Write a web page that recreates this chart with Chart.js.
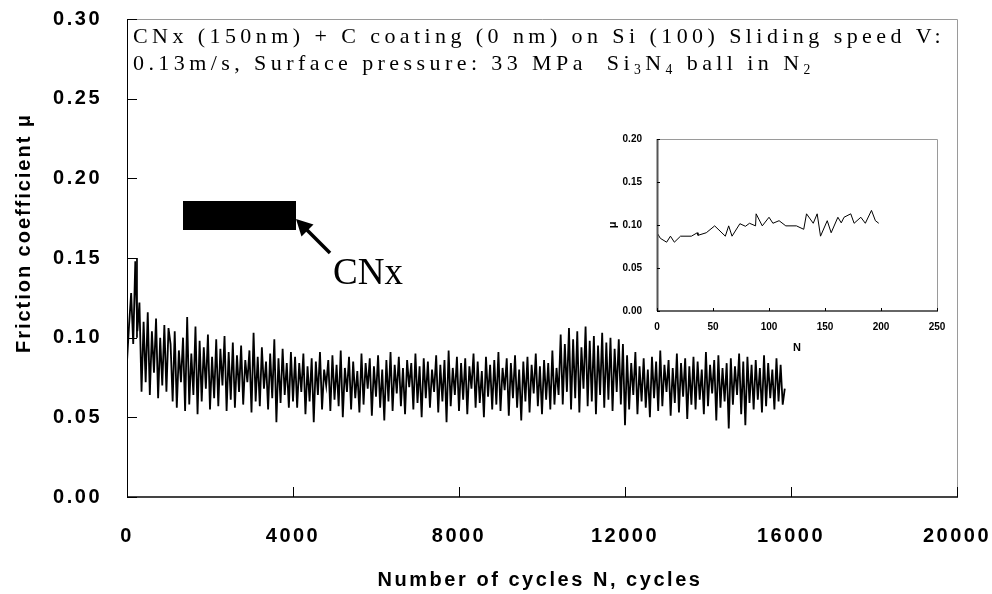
<!DOCTYPE html>
<html><head><meta charset="utf-8">
<script src="https://cdn.jsdelivr.net/npm/chart.js@4.4.0/dist/chart.umd.min.js"></script>
<style>
html,body{margin:0;padding:0;background:#fff;}
#wrap{position:relative;width:992px;height:594px;overflow:hidden;}
#main{position:absolute;left:0;top:0;}
#inset{position:absolute;left:590px;top:125px;}
</style></head><body>
<div id="wrap"><canvas id="main" width="992" height="594"></canvas><canvas id="inset" width="370" height="240"></canvas></div>
<script>
// ---------- DATA ----------
const CYCLE_STEP = 50; // sampling interval of the main trace (cycles)
// friction coefficient of main trace, in thousandths, one value every CYCLE_STEP cycles
const muMilli = [
 85,108,128,96,148,104,
 122,66,110,72,116,64,104,78,112,62,100,70,108,66,106,
 96,60,104,56,92,72,100,54,113,58,90,64,107,52,98,60,94,68,102,55,88,62,99,57,93,70,101,54,91,61,
 97,56,89,66,95,58,86,72,92,53,103,60,88,57,94,68,85,55,90,62,99,47,87,59,93,64,84,56,91,60,
 88,56,84,66,90,52,82,60,87,47,85,64,91,55,80,70,
 86,54,89,61,83,57,92,50,81,66,88,55,85,62,79,53,
 90,58,84,68,87,51,82,63,89,56,80,48,86,60,91,54,
 83,65,88,57,81,52,86,69,84,55,90,59,82,50,87,62,
 85,56,80,66,89,53,83,60,86,47,92,57,81,64,88,54,
 84,61,87,52,82,68,90,56,85,59,79,50,88,63,83,55,
 86,58,91,54,81,67,87,51,84,62,89,56,80,48,85,60,
 88,53,83,65,90,57,82,52,86,61,84,55,92,58,81,64,
 102,58,96,66,106,55,99,62,104,53,94,68,107,57,98,60,101,52,95,64,103,56,97,61,100,54,93,66,99,58,96,45,
 89,55,84,64,91,52,82,60,87,56,80,50,88,62,85,54,
 92,57,83,66,86,51,81,59,90,53,84,63,87,49,82,58,
 88,55,85,61,80,52,91,57,83,65,86,48,89,56,81,60,
 84,43,87,58,82,64,90,52,85,45,88,59,83,55,86,61,
 81,53,89,57,84,62,80,55,87,60,83,58,68
];
const startBoxN = [240, 240];
const startBoxMu = [0.15, 0.10];
const xTickVals = [0, 4000, 8000, 12000, 16000, 20000];
const yTickVals = [0, 0.05, 0.10, 0.15, 0.20, 0.25, 0.30];

const insetN = [0,3,8.6,12,15.5,21,30.7,36,36.6,44,51.5,61,64,67,74,79,82.6,88,88.5,94,100,103.5,109,115,124.5,131,133.5,139.5,143,146,152,155.5,161.5,164.5,167,173,176,182,186,191.5,195,198];
const insetMu = [0.091,0.0845,0.080,0.087,0.080,0.087,0.087,0.091,0.088,0.091,0.099,0.087,0.099,0.087,0.1015,0.0985,0.102,0.099,0.113,0.099,0.109,0.102,0.105,0.099,0.099,0.095,0.113,0.102,0.113,0.087,0.105,0.091,0.109,0.1025,0.109,0.113,0.102,0.109,0.102,0.117,0.105,0.102];
const insetXTicks = [0, 50, 100, 150, 200, 250];
const insetYTicks = [0, 0.05, 0.10, 0.15, 0.20];

const noteLine1 = [{t:'CNx (150nm) + C coating (0 nm) on Si (100) Sliding speed V:'}];
const noteLine2 = [{t:'0.13m/s, Surface pressure: 33 MPa  Si'},{t:'3',sub:true},{t:'N'},{t:'4',sub:true},{t:' ball in N'},{t:'2',sub:true}];
const xTitle = 'Number of cycles N, cycles';
const yTitle = 'Friction coefficient μ';
const cnxLabel = 'CNx';

// ---------- helpers ----------
const SANS = '"Liberation Sans", Arial, sans-serif';
const SERIF = '"Liberation Serif", "Times New Roman", serif';
Chart.defaults.font.family = SANS;
Chart.defaults.color = '#000';

function spacedWidth(ctx, t, ls){ ctx.letterSpacing='0px'; return ctx.measureText(t).width + ls*t.length; }
function drawRich(ctx, x, y, segs, size, ls){
  let cx = x;
  segs.forEach(s=>{
    const fs = s.sub ? size*0.62 : size;
    ctx.font = fs+'px '+SERIF;
    const w = spacedWidth(ctx, s.t, ls);
    ctx.letterSpacing = ls+'px';
    ctx.fillText(s.t, cx, y + (s.sub ? size*0.2 : 0));
    cx += w;
  });
  ctx.letterSpacing='0px';
}
function richWidth(ctx, segs, size, ls){
  let w=0; segs.forEach(s=>{ ctx.font=(s.sub?size*0.62:size)+'px '+SERIF; w+=spacedWidth(ctx,s.t,ls); }); return w;
}
function fitText(ctx, text, font, cx, cy, width, rot){
  ctx.save();
  ctx.font = font;
  const w0 = spacedWidth(ctx, text, 0);
  const ls = Math.max(0,(width - w0)/text.length);
  ctx.translate(cx, cy); ctx.rotate(rot||0);
  ctx.letterSpacing = ls+'px';
  ctx.textAlign='left'; ctx.textBaseline='middle';
  ctx.fillStyle='#000';
  ctx.fillText(text, -width/2, 0);
  ctx.restore();
}

function frameAndTicks(chart, o){
  const {ctx} = chart; const a = chart.chartArea;
  const xs = chart.scales.x, ys = chart.scales.y;
  ctx.save();
  ctx.lineWidth = 1; ctx.strokeStyle = '#9a9a9a';
  ctx.beginPath(); ctx.moveTo(a.left, a.top+0.5); ctx.lineTo(a.right+0.5, a.top+0.5); ctx.lineTo(a.right+0.5, a.bottom); ctx.stroke();
  ctx.strokeStyle = o.leftColor; ctx.lineWidth = o.leftW;
  ctx.beginPath(); ctx.moveTo(a.left+0.5, a.top); ctx.lineTo(a.left+0.5, a.bottom); ctx.stroke();
  ctx.strokeStyle = o.bottomColor; ctx.lineWidth = o.bottomW;
  ctx.beginPath(); ctx.moveTo(a.left, a.bottom); ctx.lineTo(a.right+1, a.bottom); ctx.stroke();
  ctx.strokeStyle = '#000'; ctx.lineWidth = 1;
  o.yt.forEach(v=>{ const p=Math.round(ys.getPixelForValue(v))+0.5; ctx.beginPath(); ctx.moveTo(a.left, p); ctx.lineTo(a.left+o.tick, p); ctx.stroke(); });
  o.xt.forEach(v=>{ const p=Math.round(xs.getPixelForValue(v))+0.5; ctx.beginPath(); ctx.moveTo(p, a.bottom); ctx.lineTo(p, a.bottom-o.tick); ctx.stroke(); });
  ctx.restore();
}
function zeroPadX(s, h){ s.height = h; s.paddingLeft = 0; s.paddingRight = 0; }
function zeroPadY(s, w){ s.width = w; s.paddingTop = 0; s.paddingBottom = 0; }

// ---------- main chart ----------
const mainPoints = muMilli.map((v,i)=>({x:i*CYCLE_STEP, y:v/1000}));
const boxPoints = startBoxN.map((n,i)=>({x:n, y:startBoxMu[i]}));

const mainPlugin = {
  id:'mainDeco',
  beforeDraw(chart){ chart.ctx.letterSpacing='2.5px'; },
  afterDraw(chart){
    const ctx = chart.ctx;
    ctx.letterSpacing='0px';
    frameAndTicks(chart,{leftColor:'#000',leftW:1,bottomColor:'#444',bottomW:2,tick:10,xt:xTickVals,yt:yTickVals});
    // note text
    ctx.save();
    ctx.fillStyle='#000'; ctx.textBaseline='alphabetic'; ctx.textAlign='left';
    const size=22;
    const w0 = richWidth(ctx, noteLine1, size, 0);
    const ls = (812 - w0)/noteLine1[0].t.length;
    drawRich(ctx, 133, 43, noteLine1, size, ls);
    drawRich(ctx, 133, 70, noteLine2, size, ls);
    // black bar
    ctx.fillStyle='#000';
    ctx.fillRect(183, 201, 113, 29);
    // arrow
    ctx.strokeStyle='#000'; ctx.lineWidth=3.5; ctx.lineCap='butt';
    ctx.beginPath(); ctx.moveTo(330,253); ctx.lineTo(305,228); ctx.stroke();
    ctx.beginPath(); ctx.moveTo(296,219); ctx.lineTo(313.5,224.5); ctx.lineTo(301.5,236.5); ctx.closePath(); ctx.fill();
    // CNx label
    ctx.font = '37px '+SERIF;
    ctx.fillText(cnxLabel, 333, 284);
    ctx.restore();
    // axis titles
    fitText(ctx, xTitle, 'bold 20px '+SANS, 540, 580, 325, 0);
    fitText(ctx, yTitle, 'bold 20px '+SANS, 24, 233, 240, -Math.PI/2);
  }
};

new Chart(document.getElementById('main'), {
  type:'line',
  data:{datasets:[
    {data:mainPoints, borderColor:'#000', borderWidth:1.8, pointRadius:0, tension:0, fill:false},
    {data:boxPoints, borderColor:'#000', borderWidth:1, pointRadius:0, tension:0, fill:false}
  ]},
  options:{
    responsive:false, animation:false, devicePixelRatio:1,
    layout:{padding:{top:19,right:35,left:0,bottom:0}},
    plugins:{legend:{display:false}, tooltip:{enabled:false}},
    scales:{
      x:{type:'linear', min:0, max:20000,
        afterBuildTicks:s=>{ s.ticks = xTickVals.map(v=>({value:v})); },
        ticks:{padding:27, color:'#000', font:{family:SANS, weight:'bold', size:20}, maxRotation:0, autoSkip:false, callback:v=>String(v)},
        grid:{display:false, drawTicks:false}, border:{display:false},
        afterFit:s=>zeroPadX(s, 97)
      },
      y:{type:'linear', min:0, max:0.30,
        afterBuildTicks:s=>{ s.ticks = yTickVals.map(v=>({value:v})); },
        ticks:{padding:25, color:'#000', font:{family:SANS, weight:'bold', size:20}, autoSkip:false, callback:v=>Number(v).toFixed(2)},
        grid:{display:false, drawTicks:false}, border:{display:false},
        afterFit:s=>zeroPadY(s, 127)
      }
    }
  },
  plugins:[mainPlugin]
});

// ---------- inset chart ----------
const insetPoints = insetN.map((n,i)=>({x:n, y:insetMu[i]}));
const insetPlugin = {
  id:'insetDeco',
  afterDraw(chart){
    frameAndTicks(chart,{leftColor:'#555',leftW:2,bottomColor:'#333',bottomW:1.5,tick:3,xt:insetXTicks,yt:insetYTicks});
  }
};
new Chart(document.getElementById('inset'), {
  type:'line',
  data:{datasets:[{data:insetPoints, borderColor:'#000', borderWidth:1, pointRadius:0, tension:0, fill:false}]},
  options:{
    responsive:false, animation:false, devicePixelRatio:1,
    layout:{padding:{top:14,right:23,left:0,bottom:0}},
    plugins:{legend:{display:false}, tooltip:{enabled:false}},
    scales:{
      x:{type:'linear', min:0, max:250,
        afterBuildTicks:s=>{ s.ticks = insetXTicks.map(v=>({value:v})); },
        ticks:{padding:10, color:'#000', font:{family:SANS, weight:'bold', size:10}, maxRotation:0, autoSkip:false, callback:v=>String(v)},
        grid:{display:false, drawTicks:false}, border:{display:false},
        title:{display:true, text:'N', color:'#000', font:{family:SANS, weight:'bold', size:11}, padding:{top:0,bottom:10}},
        afterFit:s=>zeroPadX(s, 54)
      },
      y:{type:'linear', min:0, max:0.20,
        afterBuildTicks:s=>{ s.ticks = insetYTicks.map(v=>({value:v})); },
        ticks:{padding:15, color:'#000', font:{family:SANS, weight:'bold', size:10}, autoSkip:false, callback:v=>Number(v).toFixed(2)},
        grid:{display:false, drawTicks:false}, border:{display:false},
        title:{display:true, text:'μ', color:'#000', font:{family:SANS, weight:'bold', size:11}, padding:{top:16,bottom:0}},
        afterFit:s=>zeroPadY(s, 67)
      }
    }
  },
  plugins:[insetPlugin]
});
</script>
</body></html>
